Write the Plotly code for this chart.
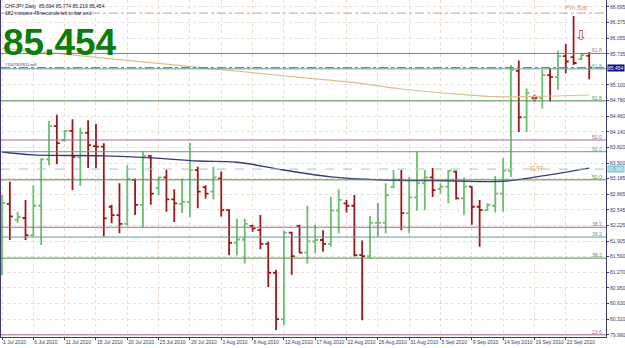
import plotly.graph_objects as go

dates = ["2010-07-01","2010-07-02","2010-07-04","2010-07-05","2010-07-06","2010-07-07","2010-07-08","2010-07-09",
         "2010-07-11","2010-07-12","2010-07-13","2010-07-14","2010-07-15","2010-07-16","2010-07-18","2010-07-19",
         "2010-07-20","2010-07-21","2010-07-22","2010-07-23","2010-07-25","2010-07-26","2010-07-27","2010-07-28",
         "2010-07-29","2010-07-30","2010-08-01","2010-08-02","2010-08-03","2010-08-04","2010-08-05","2010-08-06",
         "2010-08-08","2010-08-09","2010-08-10","2010-08-11","2010-08-12","2010-08-13","2010-08-15","2010-08-16",
         "2010-08-17","2010-08-18","2010-08-19","2010-08-20","2010-08-22","2010-08-23","2010-08-24","2010-08-25",
         "2010-08-26","2010-08-27","2010-08-29","2010-08-30","2010-08-31","2010-09-01","2010-09-02","2010-09-03",
         "2010-09-05","2010-09-06","2010-09-07","2010-09-08","2010-09-09","2010-09-10","2010-09-12","2010-09-13",
         "2010-09-14","2010-09-15","2010-09-16","2010-09-17","2010-09-19","2010-09-20","2010-09-21","2010-09-22",
         "2010-09-23","2010-09-24","2010-09-26","2010-09-27"]

opens = [81.83,82.67,82.34,82.38,82.03,82.63,83.58,84.26,83.97,84.16,83.62,84.12,83.85,83.84,82.61,82.44,
         82.26,83.16,82.65,83.65,82.99,83.21,82.76,82.67,82.71,83.36,83.01,82.92,83.19,82.54,81.87,81.94,
         82.22,82.13,81.85,81.26,80.31,82.08,82.22,81.67,81.90,81.93,81.85,82.53,82.68,82.63,81.62,81.60,
         82.28,82.28,83.01,83.16,82.48,82.80,83.09,83.21,82.97,83.02,83.33,82.78,83.02,82.61,82.54,82.63,
         82.88,83.35,85.39,84.44,84.83,84.83,85.30,85.26,85.69,85.67,85.63,85.694]
highs = [82.85,83.12,82.51,82.75,83.05,83.60,84.37,84.49,84.18,84.40,84.23,84.38,84.30,83.91,82.65,83.09,
         83.46,83.18,83.75,83.67,83.22,83.36,82.97,83.19,83.92,83.43,83.05,83.43,83.33,82.56,82.37,82.37,
         82.24,82.44,81.90,81.32,82.12,82.10,82.24,82.63,82.24,82.13,82.81,82.97,82.75,82.85,81.92,82.42,
         82.68,83.09,83.36,83.36,83.22,83.74,83.36,83.40,83.09,83.36,83.35,83.21,83.03,82.75,82.68,83.24,
         83.60,85.51,85.60,85.03,84.90,85.41,85.44,85.80,85.94,86.51,85.75,85.774]
lows = [81.21,81.93,82.28,81.93,82.00,81.83,83.46,83.48,83.94,82.95,83.04,83.40,83.40,82.00,82.27,82.07,
        82.22,82.44,82.19,82.65,82.85,82.51,82.30,82.48,82.40,82.58,82.78,82.76,82.41,81.62,81.62,81.45,
        82.10,81.74,80.97,80.09,80.19,81.22,81.66,81.45,81.66,81.69,81.79,82.07,82.49,81.59,80.29,81.55,
        82.00,82.07,82.99,82.13,82.07,82.53,82.54,82.81,82.88,82.68,82.76,82.44,82.24,81.79,82.53,82.49,
        82.51,83.22,84.14,84.14,84.76,84.62,84.76,85.00,85.34,85.51,85.61,85.219]
closes = [82.69,82.41,82.40,82.03,82.63,83.58,84.26,83.91,84.16,83.63,84.12,83.87,83.84,82.37,82.44,82.26,
          83.18,82.65,83.65,82.88,83.21,82.76,82.68,82.71,83.36,82.92,82.88,83.21,82.54,81.87,81.94,82.26,
          82.17,81.85,81.26,80.31,82.08,81.60,81.67,81.90,81.93,81.85,82.53,82.75,82.63,81.62,81.60,82.28,
          82.28,82.85,83.17,82.48,82.80,83.09,83.21,82.95,83.02,83.35,82.78,83.02,82.61,82.54,82.65,82.88,
          83.35,85.41,84.44,84.94,84.83,85.30,85.26,85.69,85.58,85.55,85.71,85.454]

# moving averages read at selected bars (bar index, value)
ma_tan_idx = [0, 6, 13, 19, 25, 32, 38, 45, 51, 57, 63, 68, 75]
ma_tan_val = [85.854, 85.76, 85.65, 85.556, 85.462, 85.351, 85.257, 85.149, 85.018, 84.926, 84.86, 84.865, 84.895]
ma_navy_idx = [0, 4, 13, 19, 25, 30, 36, 42, 48, 57, 64, 69, 75]
ma_navy_val = [83.73, 83.67, 83.65, 83.61, 83.545, 83.52, 83.36, 83.22, 83.16, 83.14, 83.13, 83.24, 83.40]

# horizontal levels
fib_pink = [85.745, 83.975, 82.19, 79.99]
fib_pink_lbl = ["61.8", "50.0", "38.2", "23.6"]
fib_teal = [85.43, 83.735, 81.99]
fib_teal_lbl = ["61.8", "50.0", "38.2"]
fib_green = [84.775, 83.16, 81.56]
fib_green_lbl = ["61.8", "50.0", "38.2"]
top_level = 86.57
sr_level = 83.38
order_level = 85.454

ytick_vals = [86.695, 86.375, 86.055, 85.735, 85.100, 84.780, 84.460, 84.140, 83.820, 83.500, 83.185,
              82.865, 82.545, 82.225, 81.905, 81.590, 81.270, 80.950, 80.630, 80.310, 79.990]
ytick_text = ["86.695", "86.375", "86.055", "85.735", "85.100", "84.780", "84.460", "84.140", "83.820", "83.500",
              "83.185", "82.865", "82.545", "82.225", "81.905", "81.590", "81.270", "80.950", "80.630", "80.310", "79.990"]
xtick_dates = ["2010-07-01","2010-07-06","2010-07-11","2010-07-15","2010-07-20","2010-07-25",
               "2010-07-29","2010-08-03","2010-08-08","2010-08-12","2010-08-17","2010-08-22","2010-08-26",
               "2010-08-31","2010-09-05","2010-09-09","2010-09-14","2010-09-19","2010-09-23"]
xtick_text = ["1 Jul 2010", "6 Jul 2010", "11 Jul 2010", "15 Jul 2010", "20 Jul 2010", "25 Jul 2010", "29 Jul 2010",
              "3 Aug 2010", "8 Aug 2010", "12 Aug 2010", "17 Aug 2010", "22 Aug 2010", "26 Aug 2010", "31 Aug 2010",
              "5 Sep 2010", "9 Sep 2010", "14 Sep 2010", "19 Sep 2010", "23 Sep 2010"]

n = len(dates)
xi = list(range(n))
xtick_vals = [dates.index(d) for d in xtick_dates]

UP = "#6cbf6c"
DN = "#9a1a1a"
AXC = "#3a3a70"
PINK = "#a8689a"
TEAL = "#5d9c9c"
GREEN = "#4e8e4e"
TAN = "#d4a862"
FONT = "Liberation Sans"

fig = go.Figure()

fig.add_trace(go.Scatter(x=ma_tan_idx, y=ma_tan_val, mode="lines", line=dict(color="#d8c08c", width=1.2),
                         line_shape="spline", hoverinfo="skip"))
fig.add_trace(go.Scatter(x=ma_navy_idx, y=ma_navy_val, mode="lines", line=dict(color="#3a3a78", width=1.4),
                         line_shape="spline", hoverinfo="skip"))

fig.add_trace(go.Ohlc(x=xi, open=opens, high=highs, low=lows, close=closes,
                      increasing=dict(line=dict(color=UP, width=1.8)),
                      decreasing=dict(line=dict(color=DN, width=1.8)),
                      tickwidth=0.38, hoverinfo="skip"))

doji = [i for i in xi if opens[i] == closes[i]]
if doji:
    md = min(b - a for a, b in zip(doji[:-1], doji[1:])) if len(doji) > 1 else 1
    fig.add_trace(go.Ohlc(x=doji, open=[opens[i] for i in doji], high=[highs[i] for i in doji],
                          low=[lows[i] for i in doji], close=[closes[i] for i in doji],
                          increasing=dict(line=dict(color="#9a9aa8", width=1.8)),
                          decreasing=dict(line=dict(color="#9a9aa8", width=1.8)),
                          tickwidth=0.38 / md, hoverinfo="skip"))

shapes = []
def hline(y, color, dash="solid", width=1):
    shapes.append(dict(type="line", xref="paper", x0=0, x1=1, yref="y", y0=y, y1=y,
                       line=dict(color=color, width=width, dash=dash), layer="above"))

hline(top_level, "#c99aac", "dashdot")
hline(order_level, "#6a6a80", "dashdot")
hline(sr_level, "#8fd0d8", "dash")
annotations = []
for vals, lbls, c in [(fib_pink, fib_pink_lbl, PINK), (fib_teal, fib_teal_lbl, TEAL), (fib_green, fib_green_lbl, GREEN)]:
    for v, l in zip(vals, lbls):
        hline(v, c)
        annotations.append(dict(xref="paper", x=1, xanchor="right", xshift=-2, yref="y", y=v, yanchor="bottom",
                                yshift=-2, text=l, showarrow=False, font=dict(size=5, color=c, family=FONT)))

annotations += [
    dict(xref="paper", x=1, xanchor="left", xshift=1, yref="y", y=order_level, yanchor="middle", text="85.454",
         showarrow=False, bgcolor="#0c0c80", borderpad=0, font=dict(size=5, color="white", family=FONT)),
    dict(xref="paper", x=1, xanchor="left", xshift=1, yref="y", y=sr_level, yanchor="middle", text="83.380",
         showarrow=False, bgcolor="#7cc8d0", borderpad=0, font=dict(size=5, color="white", family=FONT)),
    dict(xref="paper", x=0, xanchor="left", xshift=2, yref="paper", y=1, yanchor="top", yshift=-1,
         text="CHFJPY,Daily  85.694 85.774 85.219 85.454<br>182 minutes 49 seconds left to bar end",
         align="left", showarrow=False, font=dict(size=5, color="#202040", family=FONT)),
    dict(xref="paper", x=0, xanchor="left", xshift=0, yref="y", y=85.96, yanchor="middle",
         text="<b>85.454</b>", showarrow=False,
         font=dict(size=37, color="#0b7d0b", family=FONT)),
    dict(xref="paper", x=0, xanchor="left", xshift=2, yref="y", y=order_level, yanchor="bottom", yshift=-1,
         text="#1507307611.sell", showarrow=False, font=dict(size=4, color="#303050", family=FONT)),
    dict(xref="x", x=71.6, xanchor="left", yref="y", y=86.69, yanchor="middle", text="Pin Bar",
         showarrow=False, font=dict(size=7, color=TAN, family=FONT)),
    dict(xref="x", x=67.2, xanchor="left", yref="y", y=83.40, yanchor="middle", text="S/R",
         showarrow=False, font=dict(size=8, color=TAN, family=FONT)),
    dict(xref="x", x=73.9, xanchor="center", yref="y", y=86.12, yanchor="middle", text="⇩",
         showarrow=False, font=dict(size=14, color="#d03030", family="DejaVu Sans")),
]

fig.update_layout(
    width=625, height=348, margin=dict(l=1, r=19, t=0, b=11),
    paper_bgcolor="white", plot_bgcolor="white", showlegend=False,
    shapes=shapes, annotations=annotations,
    xaxis=dict(range=[-0.13, 77.14], tickvals=xtick_vals, ticktext=xtick_text, ticklabelposition="outside right",
               tickangle=0, tickfont=dict(size=5, color=AXC, family=FONT), ticks="outside", ticklen=2, tickcolor=AXC,
               showgrid=True, gridcolor="#ecdccf", griddash="dot", gridwidth=1,
               showline=True, linecolor=AXC, linewidth=1, zeroline=False,
               rangeslider=dict(visible=False), fixedrange=True),
    yaxis=dict(side="right", range=[79.946, 86.838], tickvals=ytick_vals, ticktext=ytick_text,
               tickfont=dict(size=5, color=AXC, family=FONT), ticks="outside", ticklen=2, tickcolor=AXC,
               showgrid=True, gridcolor="#ecdccf", griddash="dot", gridwidth=1,
               showline=True, mirror=True, linecolor=AXC, linewidth=1, zeroline=False, fixedrange=True),
)

fig.write_html("out.html")
